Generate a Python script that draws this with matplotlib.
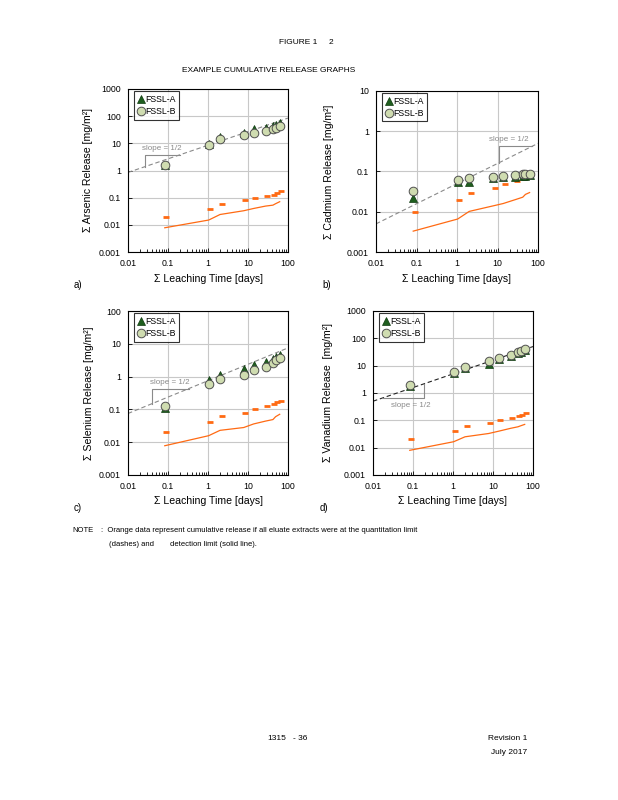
import matplotlib
matplotlib.use('Agg')
import matplotlib.pyplot as plt
from matplotlib.ticker import FixedLocator, FixedFormatter, LogLocator, NullFormatter

plt.rcParams['font.family'] = ['Liberation Sans', 'DejaVu Sans']
NARROW = ['Liberation Sans Narrow', 'Liberation Sans', 'DejaVu Sans']

# leaching times (days)
times = [0.083, 1.04, 2.0, 7.8, 13.8, 27.5, 42, 49, 62]
ql_times = [0.09, 1.15, 2.2, 8.5, 15, 30, 45, 52, 66]

x_ticks = [0.01, 0.1, 1, 10, 100]
x_labels = ['0.01', '0.1', '1', '10', '100']

# arsenic
as_a = [1.6, 9.5, 17.8, 25, 33, 38, 45, 48, 55]
as_b = [1.6, 8.9, 14, 20, 25, 29, 35, 38, 42]
as_ql = [0.019, 0.038, 0.058, 0.08, 0.095, 0.118, 0.13, 0.15, 0.17]
as_dl = [0.0078, 0.015, 0.024, 0.033, 0.040, 0.049, 0.053, 0.06, 0.071]

# cadmium
cd_a = [0.022, 0.056, 0.056, 0.07, 0.074, 0.074, 0.076, 0.078, 0.08]
cd_b = [0.032, 0.062, 0.068, 0.074, 0.078, 0.081, 0.085, 0.086, 0.087]
cd_ql = [0.0096, 0.02, 0.029, 0.038, 0.048, 0.059, 0.068, 0.076, 0.085]
cd_dl = [0.0033, 0.0066, 0.0102, 0.014, 0.016, 0.020, 0.023, 0.027, 0.030]

# selenium
se_a = [0.11, 0.78, 1.15, 1.68, 2.2, 2.8, 3.5, 3.9, 4.7]
se_b = [0.13, 0.59, 0.87, 1.1, 1.57, 1.9, 2.6, 3.2, 3.7]
se_ql = [0.021, 0.042, 0.064, 0.079, 0.10, 0.13, 0.15, 0.165, 0.18]
se_dl = [0.0078, 0.0158, 0.023, 0.028, 0.036, 0.044, 0.049, 0.06, 0.071]

# vanadium
v_a = [1.8, 5.6, 8.3, 12, 17, 23, 29, 32, 37]
v_b = [2.0, 6.1, 9.1, 15, 19, 24, 32, 34, 40]
v_ql = [0.021, 0.041, 0.063, 0.083, 0.10, 0.124, 0.148, 0.16, 0.178]
v_dl = [0.008, 0.0165, 0.025, 0.033, 0.04, 0.051, 0.058, 0.063, 0.071]

# slope = 1/2 reference lines
slope_x = [0.01, 100]
slope_as = [0.85, 85]
slope_cd = [0.005, 0.5]
slope_se = [0.075, 7.5]
slope_v = [0.5, 50]

tri_as = ([0.027, 0.027, 0.2], [1.40, 3.8, 3.8])
tri_cd = ([11, 11, 70], [0.166, 0.42, 0.42])
tri_se = ([0.04, 0.04, 0.33], [0.15, 0.43, 0.43])
tri_v = ([0.017, 0.19, 0.19], [0.65, 0.65, 2.2])

W, H = 618, 800
fig = plt.figure(figsize=(W / 100, H / 100), dpi=100)

ORANGE = '#ff6a13'
GREEN = '#1e5e1e'
PALE = '#cfdcb0'


def panel(box, ylo, yhi, ya, yb, ql, dl, sl, tri, slope_pos, sl_color,
          ylabel, ylab_x, letter, letter_x):
    l, t, r, b = box
    ax = fig.add_axes([l / W, 1 - b / H, (r - l) / W, (b - t) / H])
    ax.set_xscale('log')
    ax.set_yscale('log')
    ax.set_xlim(0.01, 100)
    ax.set_ylim(ylo, yhi)
    ax.grid(True, which='major', color='#c8c8c8', lw=0.8)
    ax.set_axisbelow(True)

    ax.plot(slope_x, sl, ls=(0, (4, 2.5)), color=sl_color, lw=0.8, zorder=2)
    ax.plot(tri[0], tri[1], color='#8a8a8a', lw=0.8, zorder=2)
    ax.text(slope_pos[0], slope_pos[1], 'slope = 1/2', fontsize=5.8,
            color='#8a8a8a', ha='center', va='center')

    ax.plot(times, dl, color=ORANGE, lw=0.9, zorder=3)
    ax.plot(ql_times, ql, ls='none', marker='_', color=ORANGE,
            ms=3.8, mew=2.0, zorder=3)
    ax.plot(times, ya, ls='none', marker='^', ms=5.5, mfc=GREEN,
            mec='#0f3a0f', mew=0.5, label='FSSL-A', zorder=4)
    ax.plot(times, yb, ls='none', marker='o', ms=6.2, mfc=PALE,
            mec='#505050', mew=0.7, label='FSSL-B', zorder=5)

    yt = []
    v = ylo
    while v <= yhi * 1.001:
        yt.append(v)
        v *= 10
    ylabels = [('%g' % y) for y in yt]
    ax.yaxis.set_major_locator(FixedLocator(yt))
    ax.yaxis.set_major_formatter(FixedFormatter(ylabels))
    ax.yaxis.set_minor_formatter(NullFormatter())
    ax.tick_params(axis='y', which='minor', left=False)
    ax.xaxis.set_major_locator(FixedLocator(x_ticks))
    ax.xaxis.set_major_formatter(FixedFormatter(x_labels))
    ax.xaxis.set_minor_locator(LogLocator(base=10, subs=range(2, 10)))
    ax.xaxis.set_minor_formatter(NullFormatter())
    ax.tick_params(which='both', direction='in', labelsize=6.3, length=3,
                   width=0.6, pad=5)
    ax.tick_params(which='minor', length=2)
    for s in ax.spines.values():
        s.set_linewidth(0.8)

    ax.set_xlabel('\u03a3 Leaching Time [days]', fontsize=7.6, labelpad=4)
    ax.set_ylabel(ylabel, fontsize=7.6)
    ax.yaxis.set_label_coords(ylab_x, 0.5)

    leg = ax.legend(loc='upper left', bbox_to_anchor=(0.04, 0.985),
                    fontsize=6.3, frameon=True, fancybox=False,
                    handlelength=0.6, handletextpad=0.2, borderpad=0.4,
                    labelspacing=0.35, borderaxespad=0)
    leg.get_frame().set_edgecolor('black')
    leg.get_frame().set_linewidth(0.8)

    fig.text(letter_x / W, 1 - (b + 33) / H, letter, fontsize=7,
             ha='left', va='center')
    return ax


panel((128, 89, 288, 252), 0.001, 1000, as_a, as_b, as_ql, as_dl,
      slope_as, tri_as, (0.07, 6.3), '#8a8a8a',
      '\u03a3 Arsenic Release [mg/m\u00b2]', -0.22, 'a)', 74)
panel((376, 91, 538, 252), 0.001, 10, cd_a, cd_b, cd_ql, cd_dl,
      slope_cd, tri_cd, (19, 0.63), '#8a8a8a',
      '\u03a3 Cadmium Release [mg/m\u00b2]', -0.26, 'b)', 322)
panel((128, 311, 288, 475), 0.001, 100, se_a, se_b, se_ql, se_dl,
      slope_se, tri_se, (0.11, 0.66), '#8a8a8a',
      '\u03a3 Selenium Release [mg/m\u00b2]', -0.21, 'c)', 74)
panel((373, 311, 533, 475), 0.001, 1000, v_a, v_b, v_ql, v_dl,
      slope_v, tri_v, (0.086, 0.36), '#222222',
      '\u03a3 Vanadium Release  [mg/m\u00b2]', -0.25, 'd)', 320)

# page text
fig.text(279 / W, 1 - 43 / H, 'FIGURE 1', family=NARROW, fontsize=6,
         ha='left', va='center')
fig.text(329 / W, 1 - 43 / H, '2', family=NARROW, fontsize=6,
         ha='left', va='center')
fig.text(269 / W, 1 - 70 / H, 'EXAMPLE CUMULATIVE RELEASE GRAPHS',
         family=NARROW, fontsize=6, ha='center', va='center')
fig.text(72 / W, 1 - 530 / H, 'NOTE', family=NARROW, fontsize=5.5,
         ha='left', va='center')
fig.text(101 / W, 1 - 530 / H,
         ':  Orange data represent cumulative release if all eluate extracts '
         'were at the quantitation limit',
         family=NARROW, fontsize=5.5, ha='left', va='center')
fig.text(109 / W, 1 - 544 / H, '(dashes) and', family=NARROW, fontsize=5.5,
         ha='left', va='center')
fig.text(170 / W, 1 - 544 / H, 'detection limit (solid line).',
         family=NARROW, fontsize=5.5, ha='left', va='center')
fig.text(267 / W, 1 - 739 / H, '1315', family=NARROW, fontsize=6,
         ha='left', va='center')
fig.text(293 / W, 1 - 739 / H, '- 36', family=NARROW, fontsize=6,
         ha='left', va='center')
fig.text(527 / W, 1 - 739 / H, 'Revision 1', family=NARROW, fontsize=6,
         ha='right', va='center')
fig.text(527 / W, 1 - 753 / H, 'July 2017', family=NARROW, fontsize=6,
         ha='right', va='center')

fig.savefig('out.png', dpi=100)
